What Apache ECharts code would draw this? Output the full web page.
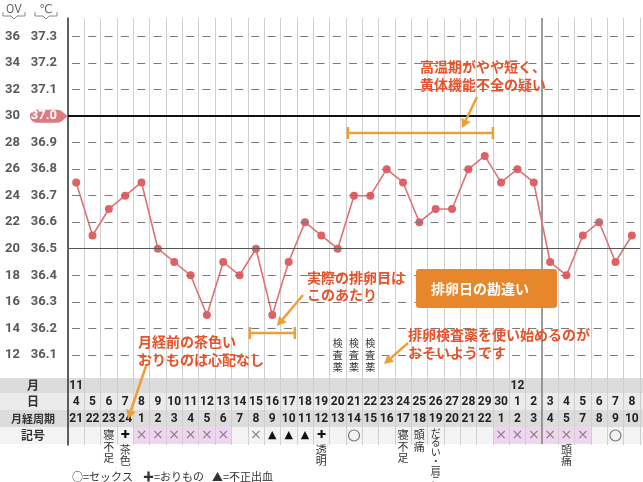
<!DOCTYPE html>
<html><head><meta charset="utf-8">
<script src="https://cdn.jsdelivr.net/npm/echarts@6/dist/echarts.min.js"></script>
<style>html,body{margin:0;padding:0;background:#fff}#c{width:643px;height:482px}</style>
</head><body><div id="c"></div>
<script>
// ---------- data ----------
const categories = ['11/4','11/5','11/6','11/7','11/8','11/9','11/10','11/11','11/12','11/13','11/14','11/15','11/16','11/17','11/18','11/19','11/20','11/21','11/22','11/23','11/24','11/25','11/26','11/27','11/28','11/29','11/30','12/1','12/2','12/3','12/4','12/5','12/6','12/7','12/8'];
const monthRow = ['11','','','','','','','','','','','','','','','','','','','','','','','','','','','12','','','','','','',''];
const dayRow = ['4','5','6','7','8','9','10','11','12','13','14','15','16','17','18','19','20','21','22','23','24','25','26','27','28','29','30','1','2','3','4','5','6','7','8'];
const cycleRow = ['21','22','23','24','1','2','3','4','5','6','7','8','9','10','11','12','13','14','15','16','17','18','19','20','21','22','1','2','3','4','5','7','8','9','10'];
const temps = [36.75,36.55,36.65,36.70,36.75,36.50,36.45,36.40,36.25,36.45,36.40,36.50,36.25,36.45,36.60,36.55,36.50,36.70,36.70,36.80,36.75,36.60,36.65,36.65,36.80,36.85,36.75,36.80,36.75,36.45,36.40,36.55,36.60,36.45,36.55];
const marks = ['','','','✚','×','×','×','×','×','×','','×','▲','▲','▲','✚','','○','','','','','','','','','×','×','×','×','×','×','','○',''];
const periodRow = [0,0,0,0,1,1,1,1,1,1,0,0,0,0,0,0,0,0,0,0,0,0,0,0,0,0,1,1,1,1,1,1,0,0,0];
const notes = ['','','寝不足','茶色','','','','','','','','','','','','透明','','','','','寝不足','頭痛','だるい・肩こり','','','','','','','','頭痛','','','',''];
const testKit = ['','','','','','','','','','','','','','','','','検査薬','検査薬','検査薬','','','','','','','','','','','','','','','',''];
const tempTicks = [36.1,36.2,36.3,36.4,36.5,36.6,36.7,36.8,36.9,37.0,37.1,37.2,37.3];
const ovTicks = [12,14,16,18,20,22,24,26,28,30,32,34,36];
const rowLabels = ['月','日','月経周期','記号'];
const legendItems = ['○=セックス','✚=おりもの','▲=不正出血'];

// ---------- chart ----------
const YMIN = 35.76, YMAX = 37.37;
const tickIdx = v => tempTicks.findIndex(t => Math.abs(t - v) < 1e-6);
const lineStyleFor = v => {
  if (Math.abs(v - 37.0) < 1e-6) return {color:'#111', width:2, type:'solid'};
  if (Math.abs(v - 36.5) < 1e-6) return {color:'#555', width:1, type:'solid'};
  return {color:'#7a7a7a', width:1, type:[8,8.3], dashOffset:-4};
};
const LABEL_FONT = 'Roboto, "DejaVu Sans", sans-serif';
const JP = '"Noto Sans CJK JP", sans-serif';

const chart = echarts.init(document.getElementById('c'), null, {renderer:'canvas'});
chart.setOption({
  animation:false,
  backgroundColor:'#fff',
  grid:{left:68, right:3, top:18, bottom:37},
  xAxis:{type:'category', data:categories, boundaryGap:true,
    axisLine:{show:false}, axisTick:{show:false}, axisLabel:{show:false},
    splitLine:{show:true, interval:0, lineStyle:{color:'#cfcfcf', width:1}}},
  yAxis:[{
    type:'value', min:YMIN, max:YMAX, position:'left',
    axisLine:{show:true, lineStyle:{color:'#333', width:1.5}},
    axisTick:{show:false}, splitLine:{show:false},
    axisLabel:{customValues:tempTicks, margin:11, color:'#595959', fontSize:13, fontWeight:'bold', fontFamily:LABEL_FONT,
      formatter:v => { const i = tickIdx(v); if (i < 0) return ''; const s = tempTicks[i].toFixed(1); return Math.abs(v-37)<1e-6 ? '{w|'+s+'}' : s; },
      rich:{w:{color:'#fff', fontSize:13, fontWeight:'bold', fontFamily:LABEL_FONT}}}
  },{
    type:'value', min:YMIN, max:YMAX, position:'left', offset:48,
    axisLine:{show:false}, axisTick:{show:false}, splitLine:{show:false},
    axisLabel:{customValues:tempTicks, margin:0, color:'#595959', fontSize:13, fontWeight:'bold', fontFamily:LABEL_FONT,
      formatter:v => { const i = tickIdx(v); return i < 0 ? '' : String(ovTicks[i]); }}
  }],
  series:[{
    type:'line', data:[], z:1, silent:true,
    markLine:{symbol:['none','none'], silent:true, label:{show:false},
      data:tempTicks.map(v => ({yAxis:v, lineStyle:lineStyleFor(v)}))}
  },{
    type:'line', data:temps, z:3, symbol:'circle', symbolSize:8,
    itemStyle:{color:'#dc6266'}, lineStyle:{color:'#e07174', width:1.6}
  }]
});

// ---------- overlays via the axes ----------
const X = i => chart.convertToPixel({xAxisIndex:0}, categories[i]);
const Y = v => chart.convertToPixel({yAxisIndex:0}, v);
const colW = X(1) - X(0);
const g = [];
const ORANGE = '#eca03a', RED = '#e4532b';

// table bands
const bands = [[378,393,'#dcdcdc'],[393,410,'#ebebeb'],[410,427,'#dcdcdc'],[427,444,'#f3f3f3']];
bands.forEach(b => g.push({type:'rect', shape:{x:0, y:b[0], width:643, height:b[1]-b[0]}, style:{fill:b[2]}, z:-2}));
// period cells
periodRow.forEach((p,i) => { if (p) g.push({type:'rect', shape:{x:X(i)-colW/2, y:427, width:colW, height:17}, style:{fill:'#eed6ee'}, z:-1}); });
// month divider
const mx = (X(28) + X(29)) / 2;
g.push({type:'line', shape:{x1:mx, y1:18, x2:mx, y2:444}, style:{stroke:'#555', lineWidth:1}, z:1});

// row labels
const rowY = [385.5, 401.5, 418.5, 435.5];
rowLabels.forEach((t,k) => g.push({type:'text', x:33, y:rowY[k], style:{text:t, fill:'#333', font:'bold '+(k===2?11:12)+'px '+JP, textAlign:'center', textVerticalAlign:'middle'}, z:5}));
const numFont = 'bold 12px ' + LABEL_FONT;
categories.forEach((c,i) => {
  const x = X(i);
  if (monthRow[i]) g.push({type:'text', x:x, y:rowY[0], style:{text:monthRow[i], fill:'#222', font:numFont, textAlign:'center', textVerticalAlign:'middle'}, z:5});
  g.push({type:'text', x:x, y:rowY[1], style:{text:dayRow[i], fill:'#222', font:numFont, textAlign:'center', textVerticalAlign:'middle'}, z:5});
  g.push({type:'text', x:x, y:rowY[2], style:{text:cycleRow[i], fill:'#222', font:numFont, textAlign:'center', textVerticalAlign:'middle'}, z:5});
  const m = marks[i];
  if (m === '○') g.push({type:'circle', shape:{cx:x, cy:rowY[3], r:5.5}, style:{fill:'none', stroke:'#777', lineWidth:1.2}, z:5});
  else if (m === '×') g.push({type:'text', x:x, y:rowY[3], style:{text:'×', fill:'#8a7a8c', font:'14px "DejaVu Sans"', textAlign:'center', textVerticalAlign:'middle'}, z:5});
  else if (m === '▲') g.push({type:'text', x:x, y:rowY[3], style:{text:'▲', fill:'#111', font:'11px "DejaVu Sans"', textAlign:'center', textVerticalAlign:'middle'}, z:5});
  else if (m === '✚') g.push({type:'text', x:x, y:rowY[3], style:{text:'✚', fill:'#111', font:'11px "DejaVu Sans"', textAlign:'center', textVerticalAlign:'middle'}, z:5});
  if (notes[i]) {
    const long = notes[i].length > 4;
    const top = m ? 444 : (long ? 428 : 429.5);
    const lh = long ? 9.5 : 11.5;
    const fs = long ? 10 : 11;
    g.push({type:'text', x:x, y:top, style:{text:notes[i].split('').join('\n'), fill:'#333', font:fs+'px '+JP, lineHeight:lh, textAlign:'center', textVerticalAlign:'top'}, z:5});
  }
  if (testKit[i]) g.push({type:'text', x:x, y:337.5, style:{text:testKit[i].split('').join('\n'), fill:'#333', font:'10px '+JP, lineHeight:12, textAlign:'center', textVerticalAlign:'top'}, z:5});
});

// legend
const legX = [72, 143, 212];
legendItems.forEach((t,k) => g.push({type:'text', x:legX[k], y:477, style:{text:t, fill:'#333', font:'11px '+JP, textAlign:'left', textVerticalAlign:'middle'}, z:5}));

// header units
g.push({type:'text', x:14, y:10, style:{text:'OV', fill:'#666', font:'12px '+LABEL_FONT, textAlign:'center', textVerticalAlign:'middle'}, z:5});
g.push({type:'text', x:46, y:10, style:{text:'℃', fill:'#666', font:'12px "DejaVu Sans"', textAlign:'center', textVerticalAlign:'middle'}, z:5});
[[3,25],[35,57]].forEach(([a,b]) => g.push({type:'polyline', shape:{points:[[a,12],[a,16],[(a+b)/2-3,16],[(a+b)/2,19],[(a+b)/2+3,16],[b,16],[b,12]]}, style:{stroke:'#888', lineWidth:1, fill:'none'}, z:5}));

// 37.0 badge
const y37 = Y(37.0);
g.push({type:'rect', shape:{x:30, y:y37-6.5, width:34, height:13, r:6.5}, style:{fill:'#de7b82'}, z:-1});
g.push({type:'polygon', shape:{points:[[62,y37-5],[67.5,y37],[62,y37+5]]}, style:{fill:'#de7b82'}, z:-1});

// arrows & brackets
function arrow(x1,y1,x2,y2){
  const a = Math.atan2(y2-y1, x2-x1), L = 9, W = 5;
  const bx = x2 - L*Math.cos(a), by = y2 - L*Math.sin(a);
  g.push({type:'line', shape:{x1:x1, y1:y1, x2:bx, y2:by}, style:{stroke:ORANGE, lineWidth:2.5}, z:20});
  g.push({type:'polygon', shape:{points:[[x2,y2],[bx+W*Math.sin(a), by-W*Math.cos(a)],[bx-W*Math.sin(a), by+W*Math.cos(a)]]}, style:{fill:ORANGE}, z:20});
}
function bracket(x1,x2,y){
  g.push({type:'line', shape:{x1:x1, y1:y, x2:x2, y2:y}, style:{stroke:ORANGE, lineWidth:2.5}, z:20});
  g.push({type:'line', shape:{x1:x1, y1:y-6, x2:x1, y2:y+6}, style:{stroke:ORANGE, lineWidth:2.5}, z:20});
  g.push({type:'line', shape:{x1:x2, y1:y-6, x2:x2, y2:y+6}, style:{stroke:ORANGE, lineWidth:2.5}, z:20});
}
bracket(X(17)-colW/2+2, X(25)+colW/2, 133);
bracket(X(11)-colW/2+2, X(13)+colW/2-2, 333);
arrow(477, 97, 462, 128);
arrow(303, 295, 277, 326);
arrow(408, 343, 384, 364);
arrow(146, 366, 128, 419);

// annotation texts
function note(t, x, yc, lh){ g.push({type:'text', x:x, y:yc-lh/2, style:{text:t, fill:RED, font:'bold 14px '+JP, lineHeight:lh, textAlign:'left', textVerticalAlign:'top'}, z:21}); }
note('高温期がやや短く、\n黄体機能不全の疑い', 420, 67, 18);
note('実際の排卵日は\nこのあたり', 307, 278, 17);
note('月経前の茶色い\nおりものは心配なし', 138, 342, 18);
note('排卵検査薬を使い始めるのが\nおそいようです', 408, 335, 18);
g.push({type:'rect', shape:{x:416, y:269, width:141, height:39, r:3}, style:{fill:'#e8862c'}, z:20});
g.push({type:'text', x:480, y:289, style:{text:'排卵日の勘違い', fill:'#fff', font:'bold 14px '+JP, textAlign:'center', textVerticalAlign:'middle'}, z:21});

chart.setOption({graphic:{elements:g}});
</script>
</body></html>
